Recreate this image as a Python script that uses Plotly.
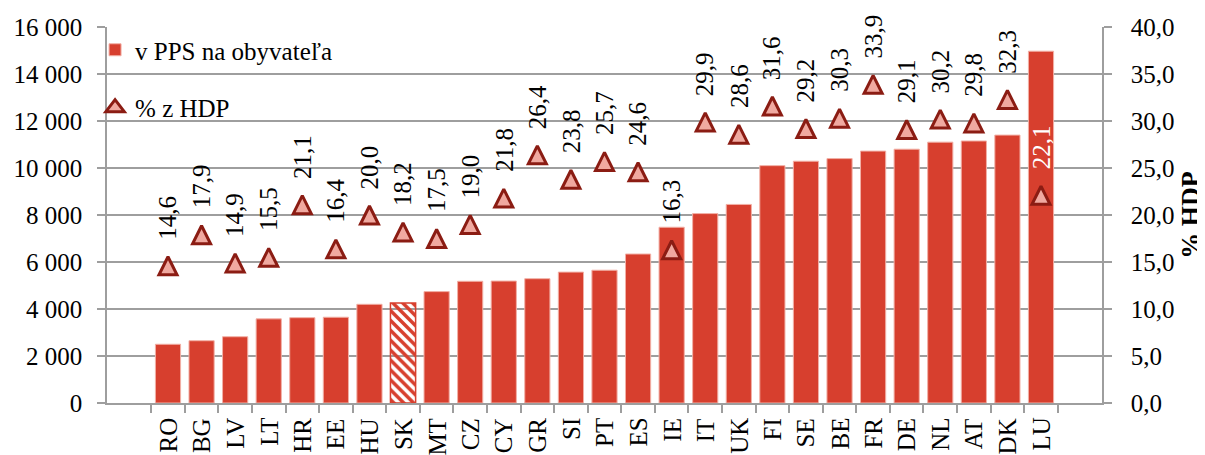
import plotly.graph_objects as go

# ---------------- data ----------------
countries = ["RO", "BG", "LV", "LT", "HR", "EE", "HU", "SK", "MT", "CZ", "CY", "GR", "SI", "PT",
             "ES", "IE", "IT", "UK", "FI", "SE", "BE", "FR", "DE", "NL", "AT", "DK", "LU"]
pps_per_capita = [2500, 2650, 2820, 3580, 3630, 3650, 4200, 4260, 4740, 5180, 5190, 5290, 5570, 5650,
                  6340, 7480, 8060, 8450, 10100, 10290, 10400, 10720, 10800, 11100, 11150, 11400, 14970]
pct_hdp = [14.6, 17.9, 14.9, 15.5, 21.1, 16.4, 20.0, 18.2, 17.5, 19.0, 21.8, 26.4, 23.8, 25.7,
           24.6, 16.3, 29.9, 28.6, 31.6, 29.2, 30.3, 33.9, 29.1, 30.2, 29.8, 32.3, 22.1]
highlight_country = "SK"
white_label_country = "LU"
left_ticks = [0, 2000, 4000, 6000, 8000, 10000, 12000, 14000, 16000]
right_ticks = [0, 5, 10, 15, 20, 25, 30, 35, 40]
bar_name = "v PPS na obyvateľa"
marker_name = "% z HDP"
right_axis_title = "% HDP"

# ---------------- styles ----------------
FONT = "Liberation Serif, Times New Roman, serif"
BAR_RED = "#D73F2E"
BAR_EDGE = "#F2B0A6"
TRI_FILL = "#F0A9A0"
TRI_EDGE = "#8B1C13"
GRID = "#9E9E9E"

pattern_shapes = ["\\" if c == highlight_country else "" for c in countries]
edge_colors = [BAR_RED if c == highlight_country else BAR_EDGE for c in countries]
edge_widths = [1.5 if c == highlight_country else 1 for c in countries]

fig = go.Figure()

fig.add_trace(go.Bar(
    x=countries, y=pps_per_capita, name=bar_name,
    marker=dict(color=BAR_RED, line=dict(color=edge_colors, width=edge_widths),
                pattern=dict(shape=pattern_shapes, fillmode="replace",
                             bgcolor="rgba(255,255,255,0)", fgcolor=BAR_RED, size=7, solidity=0.5)),
    yaxis="y", legend="legend",
))

MS = 18
fig.add_trace(go.Scatter(
    x=countries, y=pct_hdp, name=marker_name, mode="markers",
    marker=dict(symbol="arrow-down", angle=180, standoff=MS / 2, size=MS,
                color=TRI_FILL, line=dict(color=TRI_EDGE, width=3)),
    yaxis="y2", showlegend=False,
))
# legend entry for the triangle markers (no data points of its own)
fig.add_trace(go.Scatter(
    x=[None], y=[None], name=marker_name, mode="markers",
    marker=dict(symbol="triangle-up", size=16, color=TRI_FILL, line=dict(color=TRI_EDGE, width=3)),
    yaxis="y2", legend="legend2",
))

annotations = []
# rotated value labels above the triangles
for c, v in zip(countries, pct_hdp):
    annotations.append(dict(
        x=c, y=v, xref="x", yref="y2", text=f"{v:.1f}".replace(".", ","),
        textangle=-90, showarrow=False, xanchor="center", yanchor="bottom", yshift=24,
        font=dict(family=FONT, size=25, color="white" if c == white_label_country else "black"),
    ))
# rotated category labels below the x axis
for c in countries:
    annotations.append(dict(
        x=c, y=0, xref="x", yref="y", text=c,
        textangle=-90, showarrow=False, xanchor="center", yanchor="top", yshift=-13,
        font=dict(family=FONT, size=25, color="black"),
    ))

fig.update_layout(
    width=1197, height=447,
    margin=dict(l=99, r=103, t=19, b=52, pad=0),
    paper_bgcolor="white", plot_bgcolor="white",
    separators=", ",
    font=dict(family=FONT, size=25, color="black"),
    bargap=0.25,
    showlegend=True,
    annotations=annotations,
    xaxis=dict(type="category", showticklabels=False,
               showline=True, linecolor=GRID, linewidth=1.5,
               ticks="outside", tickson="boundaries", ticklen=8, tickcolor=GRID, tickwidth=1.5,
               showgrid=False, automargin=False),
    yaxis=dict(range=[0, 16000], tickvals=left_ticks, tickformat=",", showgrid=True,
               gridcolor=GRID, gridwidth=1.5, showline=True, linecolor=GRID, linewidth=1.5,
               ticks="outside", ticklen=8, tickcolor=GRID, tickwidth=1.5, zeroline=False,
               ticklabelstandoff=10,
               tickfont=dict(family=FONT, size=25), automargin=False),
    yaxis2=dict(range=[0, 40], tickvals=right_ticks, tickformat=".1f", overlaying="y", side="right",
                showgrid=False, showline=True, linecolor=GRID, linewidth=1.5,
                ticks="outside", ticklen=8, tickcolor=GRID, tickwidth=1.5, zeroline=False,
                ticklabelstandoff=14,
                tickfont=dict(family=FONT, size=25), automargin=False,
                title=dict(text=f"<b>{right_axis_title}</b>", font=dict(family=FONT, size=26),
                           standoff=15)),
    legend=dict(x=-0.012, y=1.0, xanchor="left", yanchor="top", bgcolor="rgba(0,0,0,0)",
                font=dict(family=FONT, size=25), itemwidth=30),
    legend2=dict(x=-0.012, y=0.846, xanchor="left", yanchor="top", bgcolor="rgba(0,0,0,0)",
                 font=dict(family=FONT, size=25), itemwidth=30),
)

fig.write_html("out.html")
